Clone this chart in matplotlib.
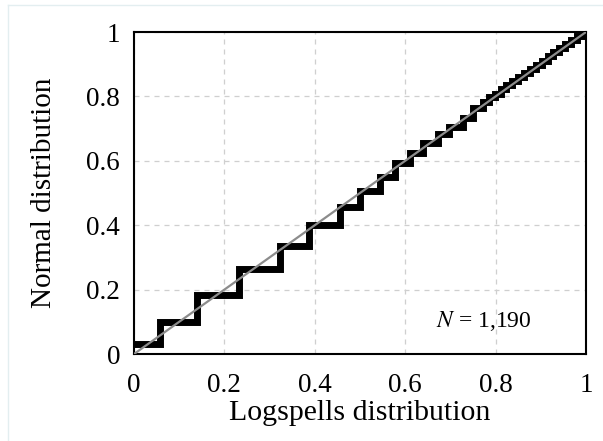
import matplotlib.pyplot as plt
from matplotlib.lines import Line2D

# step curve: left edge of each step and its level
step_x = [0, 0.058, 0.14, 0.232, 0.323, 0.387, 0.456, 0.50, 0.544, 0.577,
          0.61, 0.64, 0.673, 0.697, 0.728, 0.75, 0.772, 0.785, 0.798, 0.811,
          0.824, 0.837, 0.850, 0.863, 0.876, 0.889, 0.902, 0.915, 0.928,
          0.941, 0.954, 0.967, 0.980, 0.993, 1.0]
step_y = [0.03, 0.10, 0.183, 0.264, 0.335, 0.40, 0.457, 0.507, 0.55, 0.593,
          0.624, 0.656, 0.683, 0.706, 0.733, 0.764, 0.784, 0.797, 0.809, 0.822,
          0.835, 0.847, 0.860, 0.873, 0.886, 0.898, 0.911, 0.924, 0.937,
          0.950, 0.963, 0.976, 0.989, 0.998, 1.0]

ref_line = [0, 1]
ticks = [0, 0.2, 0.4, 0.6, 0.8, 1]
tick_labels = ['0', '0.2', '0.4', '0.6', '0.8', '1']

plt.rcParams['font.family'] = ['Liberation Serif', 'DejaVu Serif']

fig = plt.figure(figsize=(6.03, 4.41), dpi=100)
ax = fig.add_axes([134 / 603, 87 / 441, 452 / 603, 322 / 441])

ax.step(step_x, step_y, where='post', color='black', linewidth=5,
        solid_joinstyle='miter', zorder=3)
ax.plot(ref_line, ref_line, color='#8c8c8c', linewidth=1.6, zorder=4)

ax.set_xlim(0, 1)
ax.set_ylim(0, 1)
ax.set_xticks(ticks)
ax.set_xticklabels(tick_labels)
ax.set_yticks(ticks)
ax.set_yticklabels(tick_labels)
ax.tick_params(which='major', length=0, labelsize=19.5)
ax.tick_params(axis='x', which='major', pad=14)
ax.tick_params(axis='y', which='major', pad=10)

# small outward ticks only at 0 and 1 on every side
ax.set_xticks([0, 1], minor=True)
ax.set_yticks([0, 1], minor=True)
ax.tick_params(which='minor', direction='out', length=7, width=1.5,
               top=True, right=True, bottom=True, left=True)

ax.grid(True, which='major', color='#cfcfcf', linestyle=(0, (4, 4)), linewidth=0.9)
ax.set_axisbelow(True)
for s in ax.spines.values():
    s.set_linewidth(1.5)

ax.set_xlabel('Logspells distribution', fontsize=21.5, labelpad=1)
ax.set_ylabel('Normal distribution', fontsize=21, labelpad=21)

ax.text(0.774, 0.102, '$N$ = 1,190', fontsize=17, ha='center', va='center',
        math_fontfamily='stix')

# faint frame from the screenshot edge
fig.add_artist(Line2D([8 / 603, 8 / 603], [0, 1 - 5 / 441], color='#e3eef0', linewidth=1))
fig.add_artist(Line2D([8 / 603, 1], [1 - 5 / 441, 1 - 5 / 441], color='#e3eef0', linewidth=1))

fig.savefig('out.png', dpi=100)
